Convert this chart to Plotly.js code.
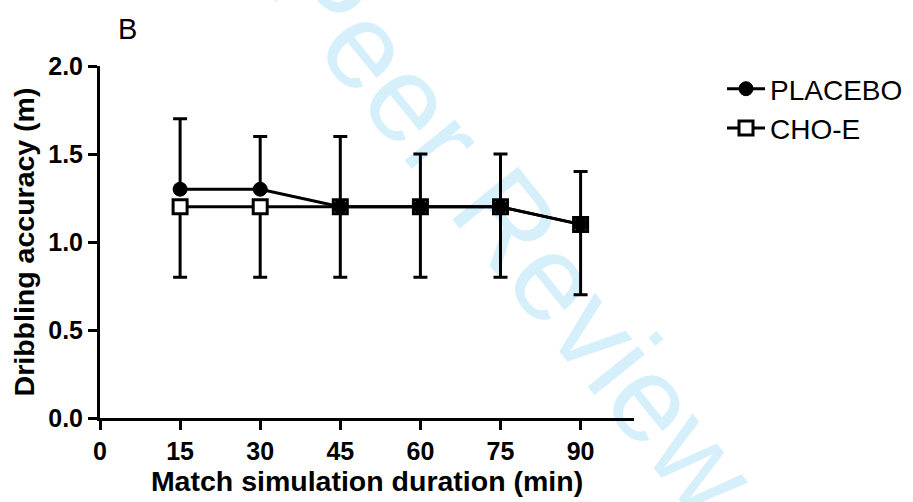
<!DOCTYPE html>
<html>
<head>
<meta charset="utf-8">
<script src="https://cdn.plot.ly/plotly-3.0.1.min.js"></script>
<style>
html,body{margin:0;padding:0;background:#fff;}
#chart{width:913px;height:502px;}
</style>
</head>
<body>
<div id="chart"></div>
<script>
// ---- data ----
var timeMin = [15, 30, 45, 60, 75, 90];
var placeboMean = [1.3, 1.3, 1.2, 1.2, 1.2, 1.1];
var placeboErrUp = [0.4, 0.3, 0.4, 0.3, 0.3, 0.3];
var choMean = [1.2, 1.2, 1.2, 1.2, 1.2, 1.1];
var choErrDown = [0.4, 0.4, 0.4, 0.4, 0.4, 0.4];
var xTicks = [0, 15, 30, 45, 60, 75, 90];
var yTicks = [0.0, 0.5, 1.0, 1.5, 2.0];
var seriesNames = ['PLACEBO', 'CHO-E'];

var FONT = 'Liberation Sans, Arial, Helvetica, sans-serif';
var zeros = timeMin.map(function(){ return 0; });

var cho = {
  x: timeMin, y: choMean, name: seriesNames[1], type: 'scatter', mode: 'lines+markers',
  line: {color: '#000', width: 3},
  marker: {symbol: 'square', size: 14, color: '#fff', line: {color: '#000', width: 3}},
  error_y: {type: 'data', symmetric: false, array: zeros, arrayminus: choErrDown,
            color: '#000', thickness: 3, width: 7},
  cliponaxis: false
};
var placebo = {
  x: timeMin, y: placeboMean, name: seriesNames[0], type: 'scatter', mode: 'lines+markers',
  line: {color: '#000', width: 3},
  marker: {symbol: 'circle', size: 14, color: '#000', line: {color: '#000', width: 1}},
  error_y: {type: 'data', symmetric: false, array: placeboErrUp, arrayminus: zeros,
            color: '#000', thickness: 3, width: 7},
  cliponaxis: false
};

var layout = {
  width: 913, height: 502,
  margin: {l: 100, r: 279, t: 66, b: 84, autoexpand: false},
  paper_bgcolor: '#fff', plot_bgcolor: '#fff',
  font: {family: FONT, color: '#000'},
  showlegend: true,
  title: {text: 'B', x: 118/913, xanchor: 'left', xref: 'container',
          y: 1 - 29/502, yanchor: 'middle', yref: 'container', automargin: false,
          font: {family: FONT, size: 29, color: '#000'}},
  xaxis: {
    range: [0, 100], tickmode: 'array', tickvals: xTicks, ticktext: xTicks.map(String),
    showline: true, linecolor: '#000', linewidth: 3, showgrid: false, zeroline: false,
    ticks: 'outside', ticklen: 9, tickwidth: 3, tickcolor: '#000', automargin: false,
    tickfont: {family: FONT, size: 25, color: '#000', weight: 'bold'},
    title: {text: '<b>Match simulation duration (min)</b>', standoff: 8,
            font: {family: FONT, size: 28.5, color: '#000'}}
  },
  yaxis: {
    range: [0, 2], tickmode: 'array', tickvals: yTicks, ticktext: yTicks.map(function(v){return v.toFixed(1);}),
    showline: true, linecolor: '#000', linewidth: 3, showgrid: false, zeroline: false,
    ticks: 'outside', ticklen: 9, tickwidth: 3, tickcolor: '#000', automargin: false,
    tickfont: {family: FONT, size: 25, color: '#000', weight: 'bold'},
    title: {text: '<b>Dribbling accuracy (m)</b>', standoff: 6,
            font: {family: FONT, size: 28.5, color: '#000'}}
  },
  legend: {x: (722-100)/534, xanchor: 'left', y: (418-64)/352, yanchor: 'top',
           font: {family: FONT, size: 28, color: '#000'}, itemwidth: 38,
           traceorder: 'reversed', bgcolor: 'rgba(0,0,0,0)'},
  annotations: [{
    text: 'Peer Review', xref: 'x', yref: 'y', x: (513-100)/5.333, y: (418-228)/176,
    showarrow: false, textangle: 51, xanchor: 'center', yanchor: 'middle',
    font: {family: FONT, size: 122, color: '#d5effb'}
  }]
};

var gd = document.getElementById('chart');
Plotly.newPlot(gd, [cho, placebo], layout, {staticPlot: true, displayModeBar: false}).then(function(){
  try {
    var anns = gd.querySelectorAll('g.annotation');
    var cart = gd.querySelector('svg.main-svg g.cartesianlayer');
    anns.forEach(function(a){
      if (a.textContent.indexOf('Peer') >= 0 && cart) { cart.parentNode.insertBefore(a, cart); }
    });
  } catch(e) {}
});
</script>
</body>
</html>
